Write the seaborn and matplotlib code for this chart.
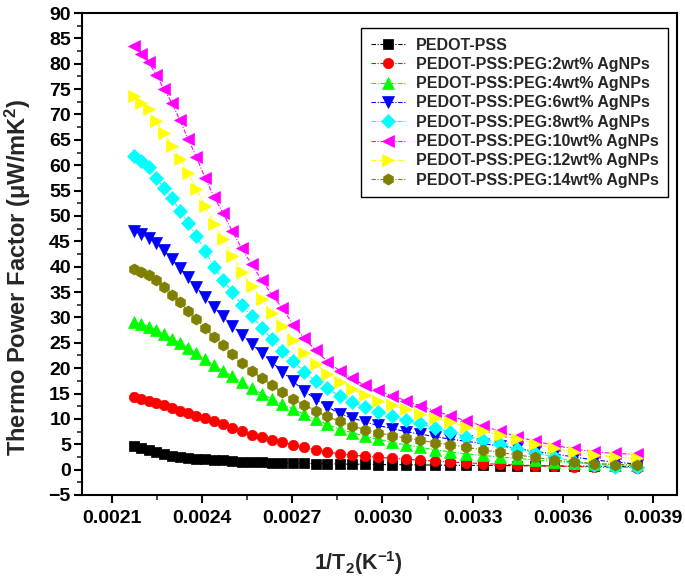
import matplotlib

matplotlib.use("Agg")
import matplotlib.pyplot as plt
import seaborn as sns
from matplotlib.ticker import FixedLocator, FormatStrFormatter, MultipleLocator

# 1/T values (K^-1), one per measured temperature
inv_temp = [
    0.0021739, 0.0021978, 0.0022222, 0.0022472, 0.0022727, 0.0022989, 0.0023256,
    0.0023529, 0.0023810, 0.0024096, 0.0024390, 0.0024691, 0.0025000, 0.0025316,
    0.0025641, 0.0025974, 0.0026316, 0.0026667, 0.0027027, 0.0027397, 0.0027778,
    0.0028169, 0.0028571, 0.0028986, 0.0029412, 0.0029851, 0.0030303, 0.0030769,
    0.0031250, 0.0031746, 0.0032258, 0.0032787, 0.0033333, 0.0033898, 0.0034483,
    0.0035088, 0.0035714, 0.0036364, 0.0037037, 0.0037736, 0.0038462,
]

pf_pedot = [
    4.6, 4.2, 3.8, 3.4, 3.0, 2.7, 2.5, 2.3, 2.15, 2.0, 1.9, 1.8, 1.7, 1.6,
    1.5, 1.45, 1.4, 1.35, 1.3, 1.25, 1.2, 1.15, 1.1, 1.08, 1.05, 1.0, 0.98,
    0.95, 0.92, 0.9, 0.87, 0.85, 0.82, 0.8, 0.77, 0.75, 0.72, 0.7, 0.67, 0.65, 0.62,
]
pf_2wt = [
    14.3, 14.0, 13.6, 13.1, 12.7, 12.2, 11.65, 11.1, 10.6, 10.1, 9.5, 8.9, 8.2, 7.6,
    6.9, 6.4, 5.9, 5.4, 4.9, 4.4, 3.9, 3.5, 3.1, 2.85, 2.65, 2.45, 2.25,
    2.05, 1.85, 1.7, 1.5, 1.35, 1.2, 1.05, 0.9, 0.8, 0.7, 0.6, 0.5, 0.45, 0.4,
]
pf_4wt = [
    29.0, 28.7, 28.2, 27.5, 26.7, 25.8, 25.0, 24.0, 22.9, 21.8, 20.6, 19.5, 18.4, 17.2,
    16.0, 15.0, 13.9, 12.9, 11.9, 10.9, 9.9, 8.9, 8.0, 7.3, 6.6, 6.0, 5.4,
    4.9, 4.4, 3.9, 3.5, 3.1, 2.8, 2.5, 2.2, 1.9, 1.6, 1.4, 1.2, 1.0, 0.9,
]
pf_6wt = [
    47.0, 46.4, 45.7, 44.6, 43.2, 41.6, 39.8, 38.0, 36.0, 34.0, 32.0, 30.2, 28.4, 26.6,
    24.8, 23.0, 21.2, 19.3, 17.4, 15.5, 13.9, 12.4, 11.0, 10.2, 9.4, 8.7, 8.1,
    7.5, 7.0, 6.5, 6.0, 5.6, 5.1, 4.7, 4.2, 3.6, 3.1, 2.5, 1.9, 1.5, 1.1,
]
pf_8wt = [
    61.8, 60.8, 59.6, 57.5, 55.5, 53.6, 51.0, 48.7, 46.0, 43.1, 40.0, 37.4, 35.0, 32.5,
    30.3, 28.0, 25.7, 23.4, 21.4, 19.3, 17.4, 16.0, 14.5, 13.4, 12.3, 11.4, 10.6,
    9.8, 9.1, 8.2, 7.4, 6.5, 5.8, 5.0, 4.1, 3.3, 2.5, 1.6, 0.9, 0.5, 0.5,
]
pf_10wt = [
    83.5, 82.0, 80.3, 77.8, 75.0, 72.3, 68.9, 65.2, 61.6, 57.5, 53.8, 50.6, 47.0, 43.6,
    40.5, 37.4, 34.5, 31.8, 28.6, 25.9, 23.5, 21.3, 19.5, 18.0, 16.6, 15.6, 14.6,
    13.6, 12.6, 11.6, 10.6, 9.6, 8.6, 7.6, 6.5, 5.6, 4.8, 4.1, 3.5, 3.2, 3.0,
]
pf_12wt = [
    73.6, 72.3, 71.0, 68.8, 66.3, 63.8, 61.2, 58.5, 55.3, 52.0, 48.5, 45.4, 42.2, 39.0,
    36.2, 33.6, 30.8, 28.4, 25.6, 23.0, 20.8, 18.9, 17.3, 15.9, 14.7, 13.6, 12.7,
    11.9, 11.0, 10.2, 9.4, 8.5, 7.7, 6.8, 6.0, 5.1, 4.2, 3.5, 2.9, 2.5, 2.2,
]
pf_14wt = [
    39.5, 38.9, 38.3, 37.3, 36.0, 34.5, 33.0, 31.3, 29.6, 27.9, 26.2, 24.5, 22.8, 21.1,
    19.5, 18.0, 16.6, 15.3, 14.0, 12.8, 11.6, 10.5, 9.5, 8.6, 7.9, 7.3, 6.7,
    6.2, 5.8, 5.3, 4.9, 4.4, 3.9, 3.4, 2.9, 2.4, 1.9, 1.5, 1.2, 1.0, 0.9,
]

labels = [
    "PEDOT-PSS",
    "PEDOT-PSS:PEG:2wt% AgNPs",
    "PEDOT-PSS:PEG:4wt% AgNPs",
    "PEDOT-PSS:PEG:6wt% AgNPs",
    "PEDOT-PSS:PEG:8wt% AgNPs",
    "PEDOT-PSS:PEG:10wt% AgNPs",
    "PEDOT-PSS:PEG:12wt% AgNPs",
    "PEDOT-PSS:PEG:14wt% AgNPs",
]
series = [pf_pedot, pf_2wt, pf_4wt, pf_6wt, pf_8wt, pf_10wt, pf_12wt, pf_14wt]
x_ticks = [0.0021, 0.0024, 0.0027, 0.0030, 0.0033, 0.0036, 0.0039]

colors = ["#000000", "#FF0000", "#00FF00", "#0000FF", "#00FFFF", "#FF00FF", "#FFFF00", "#808000"]
markers = ["s", "o", "^", "v", "D", "<", ">", "h"]
sizes = [6.5, 7.5, 8.0, 8.0, 7.0, 8.5, 8.5, 8.0]

sns.set_style("ticks")
plt.rcParams["font.family"] = ["Liberation Sans", "DejaVu Sans"]
plt.rcParams["font.weight"] = "bold"
plt.rcParams["axes.labelweight"] = "bold"
plt.rcParams["mathtext.default"] = "regular"

fig = plt.figure(figsize=(6.85, 5.86), dpi=100)
ax = fig.add_axes([0.1197, 0.1553, 0.8686, 0.8225])

for vals, lab, col, mk, ms in zip(series, labels, colors, markers, sizes):
    sns.lineplot(
        x=inv_temp,
        y=vals,
        ax=ax,
        color=col,
        marker=mk,
        markersize=ms,
        markeredgecolor=col,
        markeredgewidth=0.5,
        linestyle=(0, (4, 1.5, 1, 1.5)),
        linewidth=0.8,
        label=lab,
    )

ax.set_xlim(0.0020, 0.00398)
ax.set_ylim(-5, 90)
ax.xaxis.set_major_locator(FixedLocator(x_ticks))
ax.xaxis.set_minor_locator(MultipleLocator(0.00015))
ax.xaxis.set_major_formatter(FormatStrFormatter("%.4f"))
ax.yaxis.set_major_locator(MultipleLocator(5))
ax.yaxis.set_minor_locator(MultipleLocator(2.5))

for side in ["left", "right", "top", "bottom"]:
    ax.spines[side].set_linewidth(1.5)
    ax.spines[side].set_color("black")
ax.tick_params(which="major", direction="out", length=6, width=1.5, labelsize=14, pad=2, colors="black")
ax.tick_params(which="minor", direction="out", length=3.5, width=1.2)
ax.tick_params(axis="x", which="major", pad=5)
ax.tick_params(top=False, right=False, which="both")

ax.set_xlabel("1/T$_2$(K$^{-1}$)", fontsize=15.5, fontweight="bold")
ax.set_ylabel("Thermo Power Factor ($\\mu$W/mK$^2$)", fontsize=17, fontweight="bold")
ax.xaxis.set_label_coords(0.464, -0.112)
ax.yaxis.set_label_coords(-0.083, 0.452)

leg = ax.legend(
    loc="upper right",
    bbox_to_anchor=(0.985, 0.969),
    borderaxespad=0,
    prop={"weight": "bold", "size": 11.5},
    frameon=True,
    fancybox=False,
    framealpha=1,
    edgecolor="black",
    handlelength=2.2,
    handletextpad=0.6,
    labelspacing=0.27,
    borderpad=0.6,
)
leg.get_frame().set_linewidth(1.0)

fig.savefig("out.png", dpi=100)
